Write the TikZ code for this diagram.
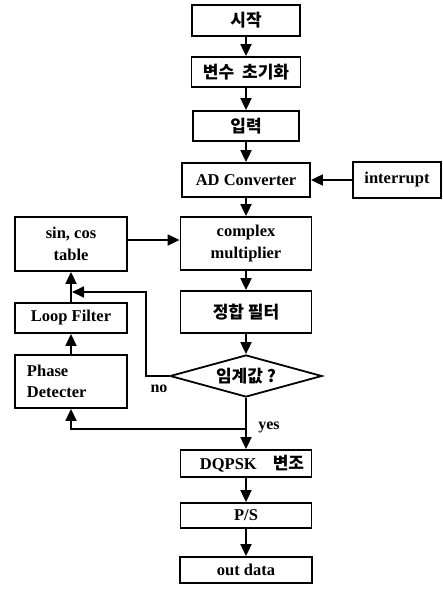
\documentclass[tikz,border=0pt]{standalone}
\usepackage{fontspec}
\setmainfont{Liberation Serif}
\newfontfamily\kr{Noto Sans CJK KR}
\usetikzlibrary{arrows.meta,shapes.geometric}
\tikzset{
  box/.style={draw, line width=1.8pt, inner sep=0pt, align=center,
    font=\fontsize{16.5}{21.5}\selectfont\bfseries},
  conn/.style={line width=1.8pt, -{Triangle[length=12pt,width=11pt]}},
  lbl/.style={font=\fontsize{16}{18}\selectfont\bfseries, inner sep=0pt}
}
\newcommand{\krt}[1]{{\kr\fontsize{17}{21}\selectfont #1}}
\begin{document}
\begin{tikzpicture}[x=1pt,y=-1pt]
\useasboundingbox (0,0) rectangle (443,590);
% main column
\node[box, minimum width=108pt, minimum height=31pt] (start) at (246,20.5) {\krt{시작}};
\node[box, minimum width=109pt, minimum height=30pt] (init) at (246,72) {\krt{변수\hspace{4pt} 초기화}};
\node[box, minimum width=106pt, minimum height=30pt] (input) at (246,126) {\krt{입력}};
\node[box, minimum width=128pt, minimum height=34pt] (adc) at (246,180) {AD Converter};
\node[box, minimum width=88pt, minimum height=36pt] (intr) at (397,180) {interrupt};
\node[box, minimum width=131pt, minimum height=53pt] (cmul) at (246,243.5) {complex\\multiplier};
\node[box, minimum width=131pt, minimum height=42pt] (mf) at (246,312) {\krt{정합 필터}};
\node[box, diamond, minimum width=152pt, minimum height=42pt, shape aspect=3.6] (dec) at (246,376) {\krt{임계값 ?}};
\node[box, minimum width=131pt, minimum height=27pt] (dqpsk) at (246,463.5) {\hspace*{12pt}DQPSK\hspace{16pt}\krt{변조}};
\node[box, minimum width=131pt, minimum height=25pt] (ps) at (246,515.5) {P/S};
\node[box, minimum width=132pt, minimum height=26pt] (out) at (246,570) {out data};
% left column
\node[box, minimum width=112pt, minimum height=54pt] (sincos) at (71,244) {sin, cos\\table};
\node[box, minimum width=112pt, minimum height=30pt] (loop) at (71,318) {Loop Filter};
\node[box, minimum width=112pt, minimum height=53pt, align=left, text width=88pt] (pd) at (71,381.5) {Phase\\Detecter};
% helper coordinates
\coordinate (nocorner) at (146,376);
\coordinate (nojoin) at (72,292);
\coordinate (yesj) at (246,429);
% connectors
\draw[conn] (start) -- (init);
\draw[conn] (init) -- (input);
\draw[conn] (input) -- (adc);
\draw[conn] (intr) -- (adc);
\draw[conn] (adc) -- (cmul);
\draw[conn] (sincos.east |- 0,240) -- (cmul.west |- 0,240);
\draw[conn] (cmul) -- (mf);
\draw[conn] (mf) -- (dec.north);
\draw[conn] (dec.south) -- (dqpsk);
\draw[conn] (dqpsk) -- (ps);
\draw[conn] (ps) -- (out);
\draw[conn] (pd) -- (loop);
\draw[conn] (loop) -- (sincos);
\draw[conn] (dec.west) -- (nocorner) |- (nojoin);
\draw[conn] (yesj) -| (pd.south);
% labels
\node[lbl] (no) at (159,389) {no};
\node[lbl] (yes) at (269,427) {yes};
\end{tikzpicture}
\end{document}
